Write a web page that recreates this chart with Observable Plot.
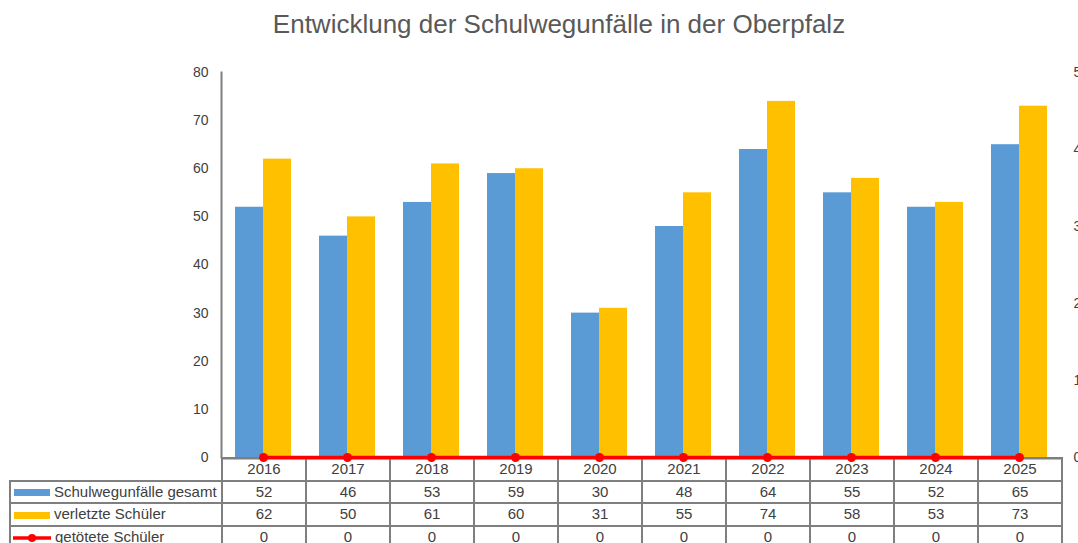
<!DOCTYPE html>
<html>
<head>
<meta charset="utf-8">
<script src="https://cdn.jsdelivr.net/npm/d3@7"></script>
<script src="https://cdn.jsdelivr.net/npm/@observablehq/plot@0.6"></script>
<style>
  body { margin: 0; background: #fff; }
  #wrap { position: relative; width: 1078px; height: 543px; overflow: hidden; font-family: "Liberation Sans", Arial, sans-serif; }
  #title { position: absolute; left: 0; top: 9px; width: 1118px; text-align: center; font-size: 26px; color: #595959; }
  #chart { position: absolute; left: 0; top: 0; z-index: 2; }
  #tbl { position: absolute; left: 9px; top: 457px; border-collapse: collapse; table-layout: fixed; font-size: 15px; color: #404040; z-index: 1; }
  #tbl td { border: 2px solid #7f7f7f; height: 20.5px; padding: 0; text-align: center; width: 82px; line-height: 18px; }
  #tbl td.lab { width: 210px; text-align: left; white-space: nowrap; }
  #tbl tr.head td.lab { border-top: none; border-left: none; }
  .sw { display: inline-block; vertical-align: middle; margin: 0 4px 0 3px; }
</style>
</head>
<body>
<div id="wrap">
  <div id="title">Entwicklung der Schulwegunfälle in der Oberpfalz</div>
  <table id="tbl"></table>
  <div id="chart"></div>
</div>
<script>
const years = ["2016","2017","2018","2019","2020","2021","2022","2023","2024","2025"];
const unfaelle = [52, 46, 53, 59, 30, 48, 64, 55, 52, 65];
const verletzte = [62, 50, 61, 60, 31, 55, 74, 58, 53, 73];
const getoetete = [0, 0, 0, 0, 0, 0, 0, 0, 0, 0];
const seriesNames = ["Schulwegunfälle gesamt", "verletzte Schüler", "getötete Schüler"];
const colors = ["#5B9BD5", "#FFC000", "#FF0000"];
const leftTicks = [0, 10, 20, 30, 40, 50, 60, 70, 80];
const rightTicks = [0, 1, 2, 3, 4, 5];
const leftMax = 80, rightMax = 5;

const rows = years.map((y, i) => ({year: y, a: unfaelle[i], b: verletzte[i], c: getoetete[i]}));
const k = leftMax / rightMax;

const chart = Plot.plot({
  width: 1078,
  height: 543,
  marginLeft: 221,
  marginRight: 17,
  marginTop: 72,
  marginBottom: 86,
  style: {fontFamily: "Liberation Sans, Arial, sans-serif", fontSize: "14px", color: "#404040", background: "transparent", overflow: "visible"},
  x: {type: "band", domain: years, paddingInner: 1/3, paddingOuter: 1/6, axis: null},
  y: {domain: [0, leftMax], axis: null},
  marks: [
    Plot.barY(rows, {x: "year", y: "a", fill: colors[0], insetRight: 28}),
    Plot.barY(rows, {x: "year", y: "b", fill: colors[1], insetLeft: 28}),
    Plot.frame({anchor: "left", stroke: "#7f7f7f", strokeWidth: 2}),
    Plot.ruleY([0], {stroke: "#7f7f7f", strokeWidth: 2, dy: 1}),
    Plot.axisY({ticks: leftTicks, tickSize: 0, tickPadding: 13, fontSize: 14}),
    Plot.axisY({anchor: "right", ticks: rightTicks.map(d => d * k), tickFormat: d => d / k, tickSize: 0, tickPadding: 12, textAnchor: "start", fontSize: 14}),
    Plot.line(rows, {x: "year", y: d => d.c * k, stroke: colors[2], strokeWidth: 3.5}),
    Plot.dot(rows, {x: "year", y: d => d.c * k, fill: colors[2], r: 4.5})
  ]
});
document.getElementById("chart").appendChild(chart);

// data table
const tbl = document.getElementById("tbl");
const swatch = (i) => {
  if (i < 2) return `<span class="sw" style="width:36px;height:7px;background:${colors[i]}"></span>`;
  return `<svg class="sw" width="38" height="10" viewBox="0 0 38 10" style="margin-left:2px"><line x1="0" y1="5" x2="38" y2="5" stroke="${colors[2]}" stroke-width="3.5"/><circle cx="19" cy="5" r="4" fill="${colors[2]}"/></svg>`;
};
let html = `<tr class="head"><td class="lab"></td>${years.map(y => `<td>${y}</td>`).join("")}</tr>`;
[unfaelle, verletzte, getoetete].forEach((vals, i) => {
  html += `<tr><td class="lab">${swatch(i)}${seriesNames[i]}</td>${vals.map(v => `<td>${v}</td>`).join("")}</tr>`;
});
tbl.innerHTML = html;
</script>
</body>
</html>
